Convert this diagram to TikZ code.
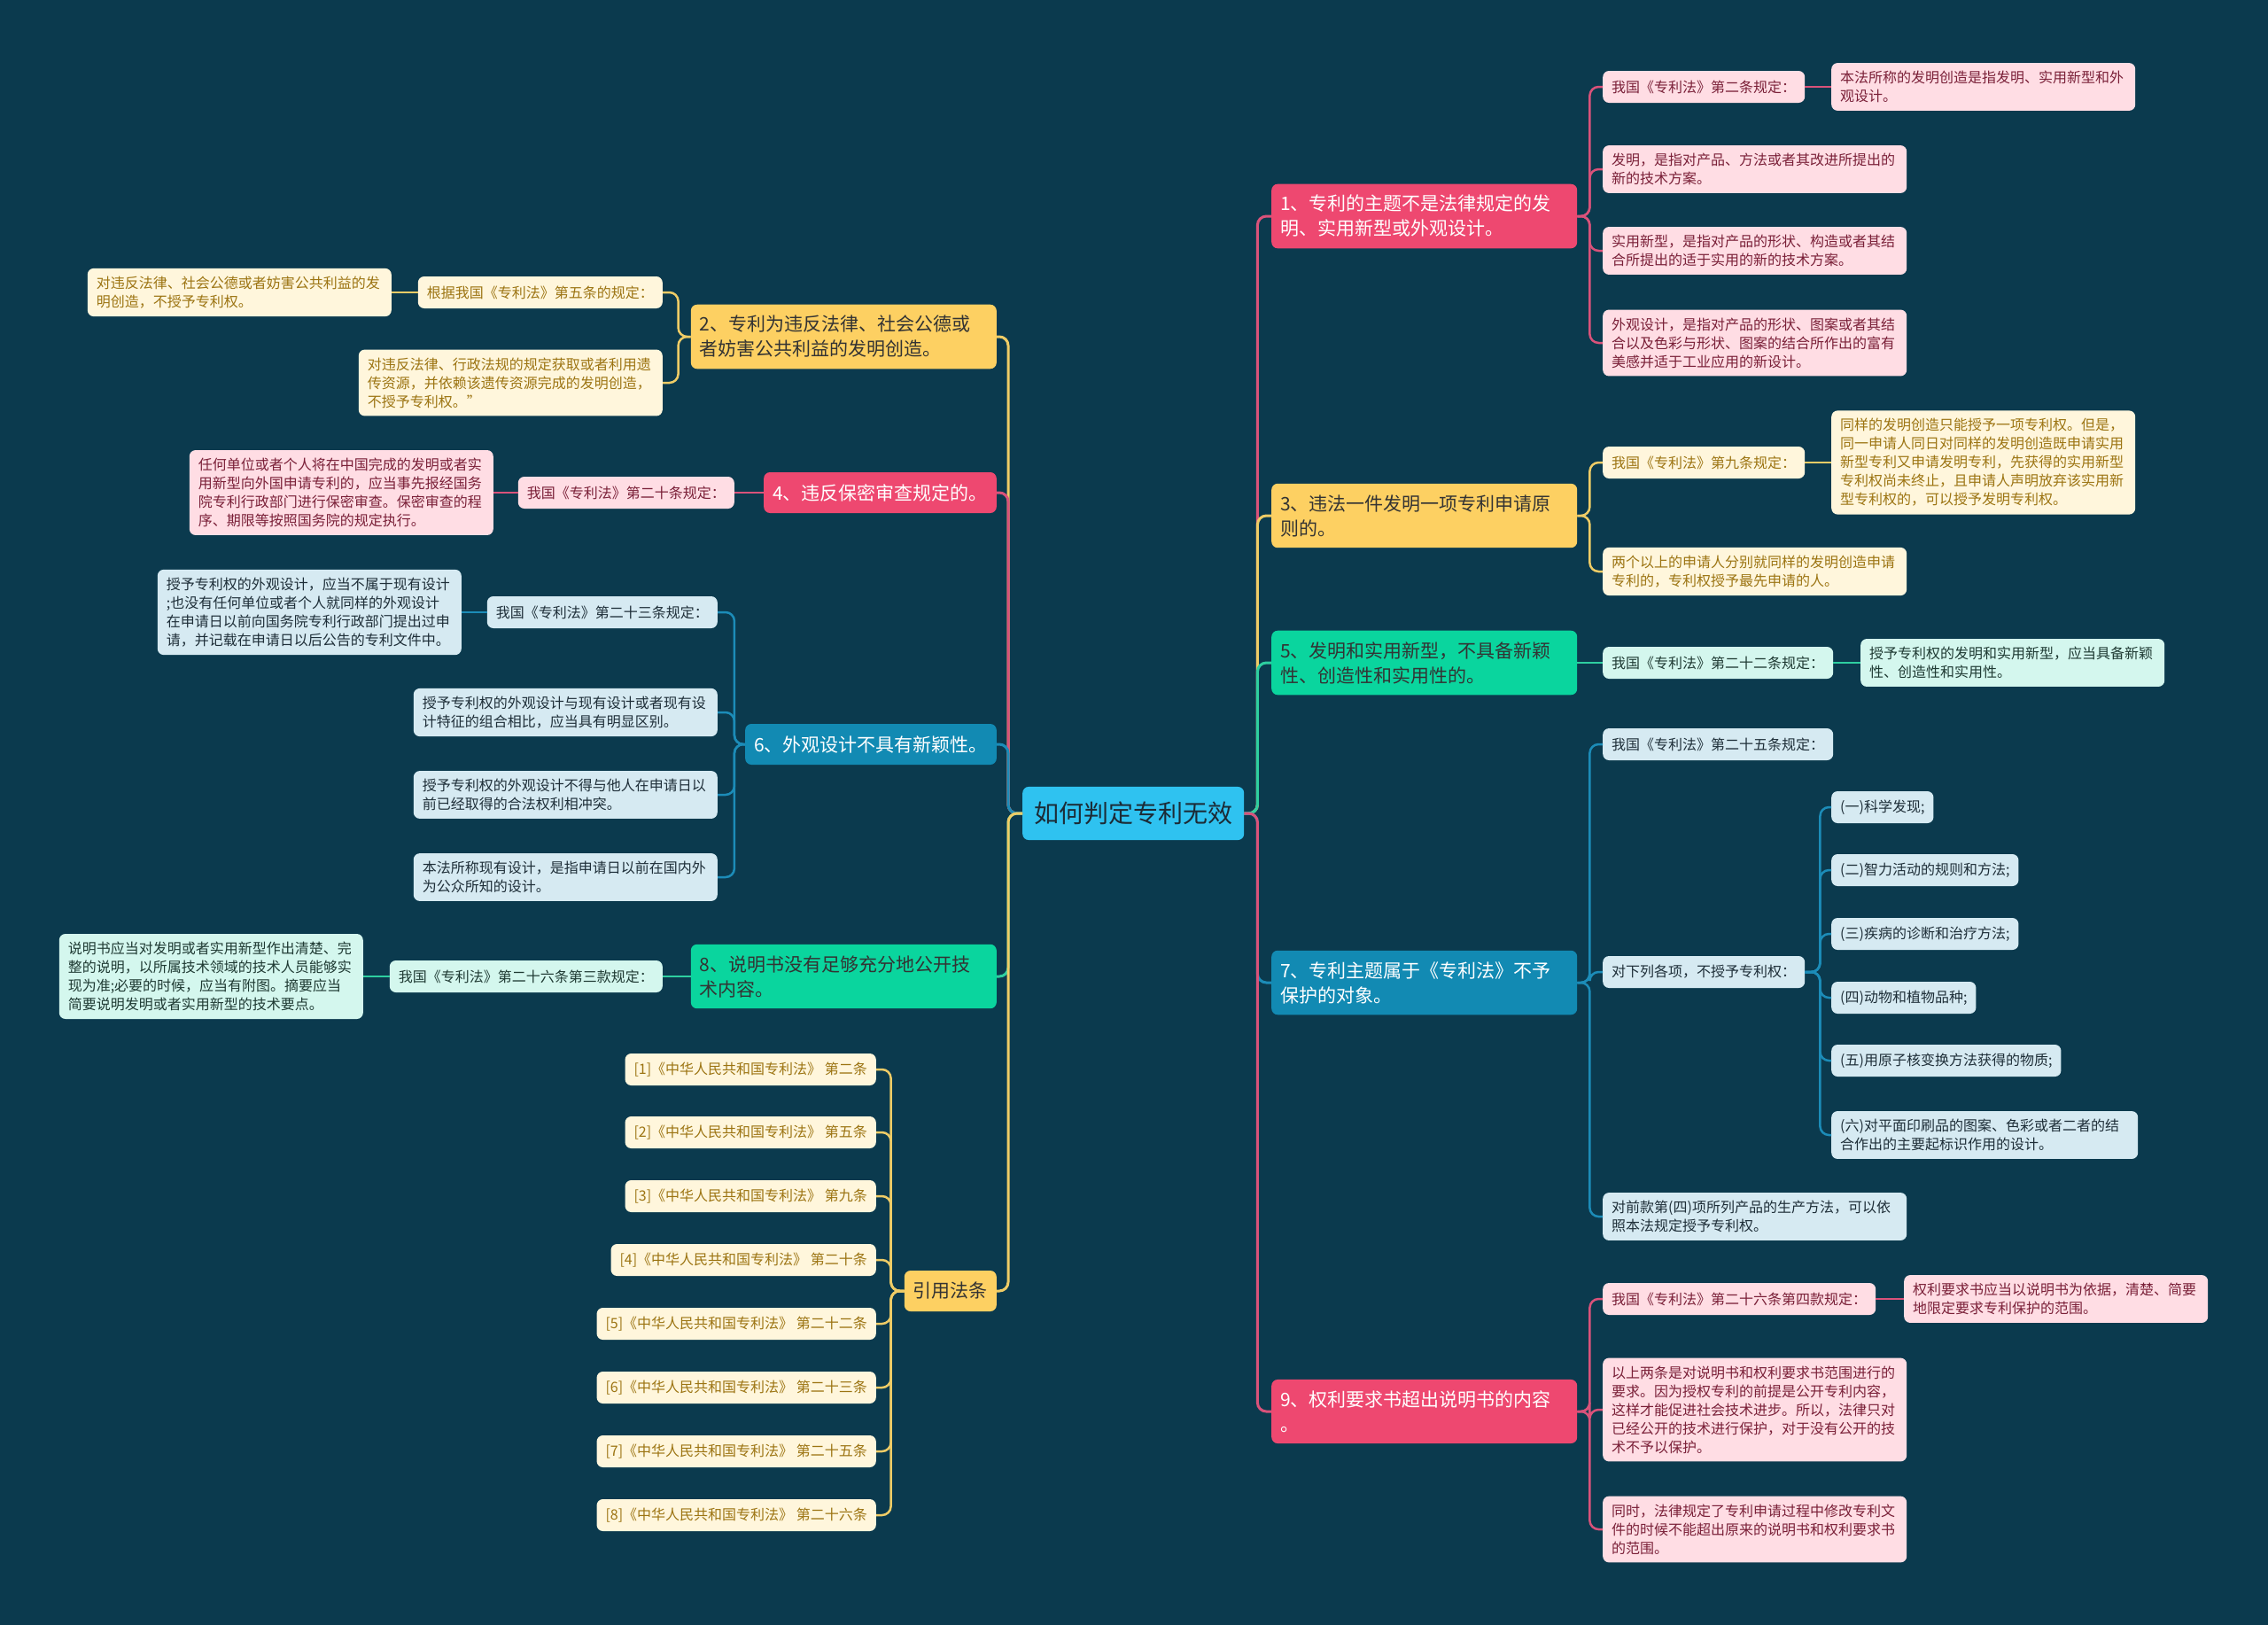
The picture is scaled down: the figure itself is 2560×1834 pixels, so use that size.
\documentclass[tikz,border=0pt]{standalone}
\usepackage{fontspec}
\setmainfont{Noto Sans CJK SC}
\usetikzlibrary{calc}
\definecolor{bg}{HTML}{0B3A4E}
\definecolor{cRoot}{HTML}{2FC2F0}
\definecolor{cRootT}{HTML}{1C2B36}
\definecolor{cPink}{HTML}{EE4870}
\definecolor{cYel}{HTML}{FDD062}
\definecolor{cGrn}{HTML}{0AD59E}
\definecolor{cBlu}{HTML}{128AB3}
\definecolor{lPink}{HTML}{FFDDE4}
\definecolor{tPink}{HTML}{7A2038}
\definecolor{lYel}{HTML}{FFF6DC}
\definecolor{tYel}{HTML}{9C7412}
\definecolor{lGrn}{HTML}{D4F7EE}
\definecolor{tGrn}{HTML}{1F3A33}
\definecolor{lBlu}{HTML}{D6EAF2}
\definecolor{tBlu}{HTML}{1E2E38}
\definecolor{kPink}{HTML}{D9527A}
\definecolor{kYel}{HTML}{EFCC66}
\definecolor{kGrn}{HTML}{2ECFA0}
\definecolor{kBlu}{HTML}{1C8CB8}
\begin{document}
\begin{tikzpicture}[x=1pt,y=-1pt,
  box/.style={rounded corners=7pt, align=left, inner xsep=10pt, inner ysep=9pt, minimum height=36pt},
  rootbox/.style={box, fill=cRoot, text=cRootT, font=\fontsize{28}{34}\selectfont, inner xsep=13pt, inner ysep=17pt},
  br/.style={box, font=\fontsize{21}{28}\selectfont, inner ysep=12.5pt, minimum height=46pt},
  brw/.style={br, text width=325pt},
  lv/.style={box, font=\fontsize{16}{21}\selectfont},
  lvw/.style={lv, text width=323pt},
  cite/.style={box, fill=lYel, text=tYel, font=\fontsize{16}{21}\selectfont, anchor=east},
  pinkB/.style={fill=cPink, text=white},
  yelB/.style={fill=cYel, text=black!80},
  grnB/.style={fill=cGrn, text=black!80},
  bluB/.style={fill=cBlu, text=white},
  pinkL/.style={fill=lPink, text=tPink},
  yelL/.style={fill=lYel, text=tYel},
  grnL/.style={fill=lGrn, text=tGrn},
  bluL/.style={fill=lBlu, text=tBlu},
  conn/.style={line width=2.5pt, rounded corners=10pt},
  cP/.style={conn, draw=kPink},
  cY/.style={conn, draw=kYel},
  cG/.style={conn, draw=kGrn},
  cB/.style={conn, draw=kBlu},
]
\fill[bg] (0,0) rectangle (2560,1834);
\useasboundingbox (0,0) rectangle (2560,1834);

% root
\node[rootbox, anchor=west] (root) at (1154,918) {如何判定专利无效};

% right branches
\node[brw, pinkB, anchor=west] (B1) at (1435,244) {1、专利的主题不是法律规定的发\\明、实用新型或外观设计。};
\node[brw, yelB, anchor=west] (B3) at (1435,582) {3、违法一件发明一项专利申请原\\则的。};
\node[brw, grnB, anchor=west] (B5) at (1435,748) {5、发明和实用新型，不具备新颖\\性、创造性和实用性的。};
\node[brw, bluB, anchor=west] (B7) at (1435,1109) {7、专利主题属于《专利法》不予\\保护的对象。};
\node[brw, pinkB, anchor=west] (B9) at (1435,1593) {9、权利要求书超出说明书的内容\\。};

% left branches
\node[brw, yelB, anchor=east] (B2) at (1125,380) {2、专利为违反法律、社会公德或\\者妨害公共利益的发明创造。};
\node[br, pinkB, anchor=east] (B4) at (1125,556) {4、违反保密审查规定的。};
\node[br, bluB, anchor=east] (B6) at (1125,840) {6、外观设计不具有新颖性。};
\node[brw, grnB, anchor=east] (B8) at (1125,1102) {8、说明书没有足够充分地公开技\\术内容。};
\node[br, yelB, anchor=east] (BC) at (1125,1457) {引用法条};

% B1 children
\node[lv, pinkL, anchor=west] (R1a) at (1809,98) {我国《专利法》第二条规定：};
\node[lvw, pinkL, anchor=west] (R1aa) at (2067,98) {本法所称的发明创造是指发明、实用新型和外\\观设计。};
\node[lvw, pinkL, anchor=west] (R1b) at (1809,191) {发明，是指对产品、方法或者其改进所提出的\\新的技术方案。};
\node[lvw, pinkL, anchor=west] (R1c) at (1809,283) {实用新型，是指对产品的形状、构造或者其结\\合所提出的适于实用的新的技术方案。};
\node[lvw, pinkL, anchor=west] (R1d) at (1809,387) {外观设计，是指对产品的形状、图案或者其结\\合以及色彩与形状、图案的结合所作出的富有\\美感并适于工业应用的新设计。};

% B3 children
\node[lv, yelL, anchor=west] (R3a) at (1809,522) {我国《专利法》第九条规定：};
\node[lvw, yelL, anchor=west] (R3aa) at (2067,522) {同样的发明创造只能授予一项专利权。但是，\\同一申请人同日对同样的发明创造既申请实用\\新型专利又申请发明专利，先获得的实用新型\\专利权尚未终止，且申请人声明放弃该实用新\\型专利权的，可以授予发明专利权。};
\node[lvw, yelL, anchor=west] (R3b) at (1809,645) {两个以上的申请人分别就同样的发明创造申请\\专利的，专利权授予最先申请的人。};

% B5 children
\node[lv, grnL, anchor=west] (R5a) at (1809,748) {我国《专利法》第二十二条规定：};
\node[lvw, grnL, anchor=west] (R5aa) at (2100,748) {授予专利权的发明和实用新型，应当具备新颖\\性、创造性和实用性。};

% B7 children
\node[lv, bluL, anchor=west] (R7a) at (1809,840) {我国《专利法》第二十五条规定：};
\node[lv, bluL, anchor=west] (R7b) at (1809,1097) {对下列各项，不授予专利权：};
\node[lv, bluL, anchor=west] (R7b1) at (2067,911) {(一)科学发现;};
\node[lv, bluL, anchor=west] (R7b2) at (2067,982) {(二)智力活动的规则和方法;};
\node[lv, bluL, anchor=west] (R7b3) at (2067,1054) {(三)疾病的诊断和治疗方法;};
\node[lv, bluL, anchor=west] (R7b4) at (2067,1126) {(四)动物和植物品种;};
\node[lv, bluL, anchor=west] (R7b5) at (2067,1197) {(五)用原子核变换方法获得的物质;};
\node[lvw, bluL, text width=326pt, anchor=west] (R7b6) at (2067,1281) {(六)对平面印刷品的图案、色彩或者二者的结\\合作出的主要起标识作用的设计。};
\node[lvw, bluL, anchor=west] (R7c) at (1809,1373) {对前款第(四)项所列产品的生产方法，可以依\\照本法规定授予专利权。};

% B9 children
\node[lv, pinkL, anchor=west] (R9a) at (1809,1466) {我国《专利法》第二十六条第四款规定：};
\node[lvw, pinkL, anchor=west] (R9aa) at (2149,1466) {权利要求书应当以说明书为依据，清楚、简要\\地限定要求专利保护的范围。};
\node[lvw, pinkL, anchor=west] (R9b) at (1809,1591) {以上两条是对说明书和权利要求书范围进行的\\要求。因为授权专利的前提是公开专利内容，\\这样才能促进社会技术进步。所以，法律只对\\已经公开的技术进行保护，对于没有公开的技\\术不予以保护。};
\node[lvw, pinkL, anchor=west] (R9c) at (1809,1726) {同时，法律规定了专利申请过程中修改专利文\\件的时候不能超出原来的说明书和权利要求书\\的范围。};

% B2 children
\node[lv, yelL, anchor=east] (L2a) at (748,330) {根据我国《专利法》第五条的规定：};
\node[lvw, yelL, anchor=east] (L2aa) at (442,330) {对违反法律、社会公德或者妨害公共利益的发\\明创造，不授予专利权。};
\node[lvw, yelL, anchor=east] (L2b) at (748,432) {对违反法律、行政法规的规定获取或者利用遗\\传资源，并依赖该遗传资源完成的发明创造，\\不授予专利权。”};

% B4 children
\node[lv, pinkL, anchor=east] (L4a) at (829,556) {我国《专利法》第二十条规定：};
\node[lvw, pinkL, anchor=east] (L4aa) at (557,556) {任何单位或者个人将在中国完成的发明或者实\\用新型向外国申请专利的，应当事先报经国务\\院专利行政部门进行保密审查。保密审查的程\\序、期限等按照国务院的规定执行。};

% B6 children
\node[lv, bluL, anchor=east] (L6a) at (810,691) {我国《专利法》第二十三条规定：};
\node[lvw, bluL, anchor=east] (L6aa) at (521,691) {授予专利权的外观设计，应当不属于现有设计\\;也没有任何单位或者个人就同样的外观设计\\在申请日以前向国务院专利行政部门提出过申\\请，并记载在申请日以后公告的专利文件中。};
\node[lvw, bluL, anchor=east] (L6b) at (810,804) {授予专利权的外观设计与现有设计或者现有设\\计特征的组合相比，应当具有明显区别。};
\node[lvw, bluL, anchor=east] (L6c) at (810,897) {授予专利权的外观设计不得与他人在申请日以\\前已经取得的合法权利相冲突。};
\node[lvw, bluL, anchor=east] (L6d) at (810,990) {本法所称现有设计，是指申请日以前在国内外\\为公众所知的设计。};

% B8 children
\node[lv, grnL, anchor=east] (L8a) at (748,1102) {我国《专利法》第二十六条第三款规定：};
\node[lvw, grnL, anchor=east] (L8aa) at (410,1102) {说明书应当对发明或者实用新型作出清楚、完\\整的说明，以所属技术领域的技术人员能够实\\现为准;必要的时候，应当有附图。摘要应当\\简要说明发明或者实用新型的技术要点。};

% citations
\node[cite] (C1) at (989,1207) {[1]《中华人民共和国专利法》 第二条};
\node[cite] (C2) at (989,1278) {[2]《中华人民共和国专利法》 第五条};
\node[cite] (C3) at (989,1350) {[3]《中华人民共和国专利法》 第九条};
\node[cite] (C4) at (989,1422) {[4]《中华人民共和国专利法》 第二十条};
\node[cite] (C5) at (989,1494) {[5]《中华人民共和国专利法》 第二十二条};
\node[cite] (C6) at (989,1566) {[6]《中华人民共和国专利法》 第二十三条};
\node[cite] (C7) at (989,1638) {[7]《中华人民共和国专利法》 第二十五条};
\node[cite] (C8) at (989,1710) {[8]《中华人民共和国专利法》 第二十六条};

% root connectors
\draw[cP, line width=3pt] (root.east) -- ++(15,0) |- (B1.west);
\draw[cY, line width=3pt] (root.east) -- ++(15,0) |- (B3.west);
\draw[cG, line width=3pt] (root.east) -- ++(15,0) |- (B5.west);
\draw[cB, line width=3pt] (root.east) -- ++(15,0) |- (B7.west);
\draw[cP, line width=3pt] (root.east) -- ++(15,0) |- (B9.west);
\draw[cY, line width=3pt] (root.west) -- ++(-16,0) |- (B2.east);
\draw[cP, line width=3pt] (root.west) -- ++(-16,0) |- (B4.east);
\draw[cB, line width=3pt] (root.west) -- ++(-16,0) |- (B6.east);
\draw[cG, line width=3pt] (root.west) -- ++(-16,0) |- (B8.east);
\draw[cY, line width=3pt] (root.west) -- ++(-16,0) |- (BC.east);

% right level 2
\foreach \c in {R1a,R1b,R1c,R1d} \draw[cP] (B1.east) -- ++(14,0) |- (\c.west);
\draw[cP] (R1a.east) -- (R1a.east -| R1aa.west);
\foreach \c in {R3a,R3b} \draw[cY] (B3.east) -- ++(14,0) |- (\c.west);
\draw[cY] (R3a.east) -- (R3a.east -| R3aa.west);
\draw[cG] (B5.east) -- (B5.east -| R5a.west);
\draw[cG] (R5a.east) -- (R5a.east -| R5aa.west);
\foreach \c in {R7a,R7b,R7c} \draw[cB] (B7.east) -- ++(14,0) |- (\c.west);
\foreach \c in {R7b1,R7b2,R7b3,R7b4,R7b5,R7b6} \draw[cB] (R7b.east) -- ++(17,0) |- (\c.west);
\foreach \c in {R9a,R9b,R9c} \draw[cP] (B9.east) -- ++(14,0) |- (\c.west);
\draw[cP] (R9a.east) -- (R9a.east -| R9aa.west);

% left level 2
\foreach \c in {L2a,L2b} \draw[cY] (B2.west) -- ++(-14,0) |- (\c.east);
\draw[cY] (L2a.west) -- (L2a.west -| L2aa.east);
\draw[cP] (B4.west) -- (B4.west -| L4a.east);
\draw[cP] (L4a.west) -- (L4a.west -| L4aa.east);
\foreach \c in {L6a,L6b,L6c,L6d} \draw[cB] (B6.west) -- ++(-12,0) |- (\c.east);
\draw[cB] (L6a.west) -- (L6a.west -| L6aa.east);
\draw[cG] (B8.west) -- (B8.west -| L8a.east);
\draw[cG] (L8a.west) -- (L8a.west -| L8aa.east);
\foreach \c in {C1,C2,C3,C4,C5,C6,C7,C8} \draw[cY] (BC.west) -- ++(-15,0) |- (\c.east);
\end{tikzpicture}
\end{document}
